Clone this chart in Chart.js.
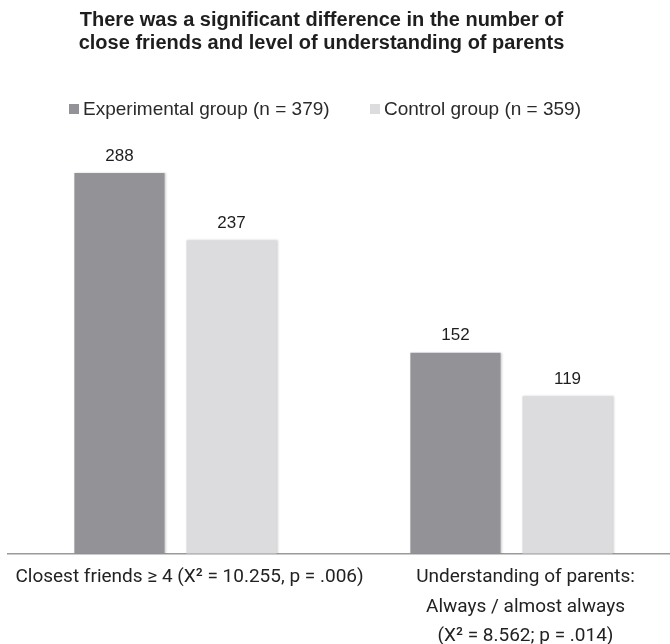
<!DOCTYPE html>
<html><head><meta charset="utf-8">
<script src="https://cdn.jsdelivr.net/npm/chart.js@4.4.1/dist/chart.umd.min.js"></script>
<style>
html,body{margin:0;padding:0;overflow:hidden;background:#fff;width:670px;height:644px;}
#wrap{position:absolute;left:0;top:0;width:690px;height:660px;}
</style></head><body>
<div id="wrap"><canvas id="c"></canvas></div>
<script>
const titleLines = ["There was a significant difference in the number of", "close friends and level of understanding of parents"];
const categories = [["Closest friends \u2265 4 (X\u00B2 = 10.255, p = .006)"], ["Understanding of parents:", "Always / almost always", "(X\u00B2 = 8.562; p = .014)"]];
const seriesNames = ["Experimental group (n = 379)", "Control group (n = 359)"];
const experimental = [288, 152];
const control = [237, 119];
const seriesColors = ["#939397", "#dcdcde"];
const yMax = 320;

const titlePlugin = {
  id: 'titleLegend',
  beforeDatasetsDraw(chart) {
    const ctx = chart.ctx;
    ctx.save();
    ctx.shadowColor = 'rgba(0,0,0,0.18)';
    ctx.shadowBlur = 2;
    ctx.shadowOffsetX = 1;
    ctx.shadowOffsetY = 0;
  },
  afterDatasetsDraw(chart) {
    const ctx = chart.ctx;
    ctx.restore();
    ctx.save();
    ctx.fillStyle = '#1e1e1e';
    ctx.font = '17px "Liberation Sans", Arial, sans-serif';
    ctx.textAlign = 'center';
    ctx.textBaseline = 'alphabetic';
    chart.data.datasets.forEach((ds, di) => {
      const meta = chart.getDatasetMeta(di);
      meta.data.forEach((el, i) => {
        ctx.fillText(String(ds.data[i]), el.x, el.y - 12.4);
      });
    });
    ctx.restore();
  },
  afterDraw(chart) {
    const ctx = chart.ctx;
    ctx.save();
    ctx.fillStyle = '#1e1e1e';
    ctx.font = 'bold 20px "Liberation Sans", Arial, sans-serif';
    ctx.textAlign = 'center';
    ctx.textBaseline = 'alphabetic';
    titleLines.forEach((t, i) => ctx.fillText(t, 321.5, 26 + i * 23));
    ctx.font = '19px "Liberation Sans", Arial, sans-serif';
    ctx.textAlign = 'left';
    const legendX = [69, 370];
    chart.data.datasets.forEach((ds, i) => {
      ctx.fillStyle = ds.backgroundColor;
      ctx.fillRect(legendX[i], 104, 10, 10);
      ctx.fillStyle = '#2a2a2a';
      ctx.fillText(ds.label, legendX[i] + 14, 115);
    });
    ctx.restore();
  }
};

new Chart(document.getElementById('c'), {
  type: 'bar',
  data: {
    labels: categories,
    datasets: [
      { label: seriesNames[0], data: experimental, backgroundColor: seriesColors[0] },
      { label: seriesNames[1], data: control, backgroundColor: seriesColors[1] }
    ]
  },
  options: {
    responsive: true,
    maintainAspectRatio: false,
    animation: false,
    events: [],
    layout: { padding: { top: 130.7, left: 7.5, right: 10.5, bottom: 0 } },
    datasets: { bar: { categoryPercentage: 0.667, barPercentage: 0.805 } },
    plugins: { legend: { display: false }, title: { display: false }, tooltip: { enabled: false } },
    scales: {
      x: {
        grid: { display: false, drawTicks: false },
        border: { display: true, color: '#9a9a9a', width: 1.5 },
        ticks: {
          color: '#222',
          font: { family: 'Roboto', size: 19, lineHeight: 1.55 },
          padding: 9,
          labelOffset: 14,
          maxRotation: 0,
          autoSkip: false
        },
        afterFit(scale) { scale.paddingLeft = 0; scale.paddingRight = 0; }
      },
      y: { display: false, min: 0, max: yMax }
    }
  },
  plugins: [titlePlugin]
});
</script>
</body></html>
